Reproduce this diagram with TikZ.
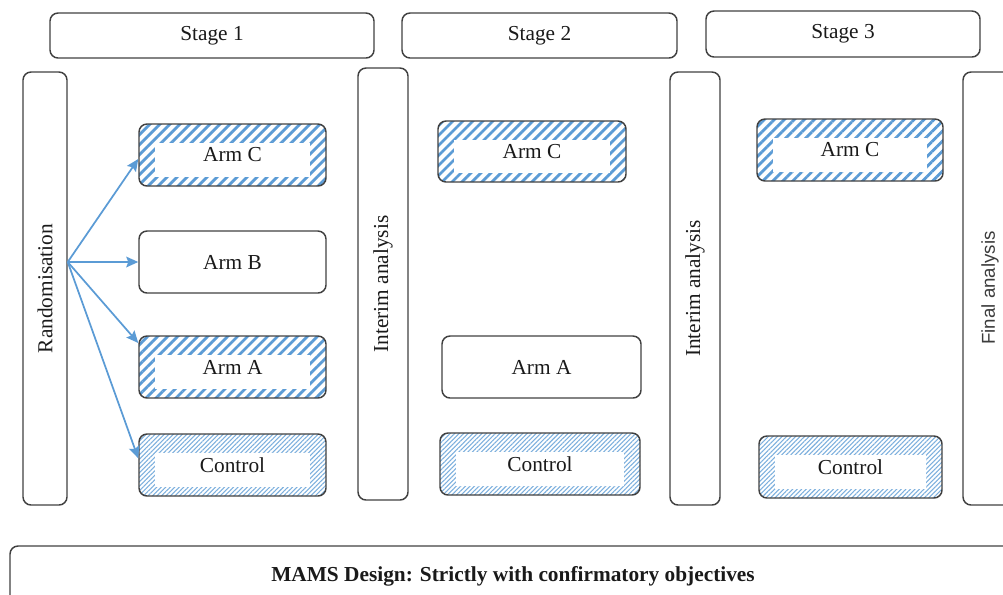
\documentclass[tikz,border=0pt]{standalone}
\usepackage{fontspec}
\setmainfont{Liberation Serif}
\newfontfamily\arialfont{Liberation Sans}
\usetikzlibrary{arrows.meta,patterns.meta}
\definecolor{hatchblue}{HTML}{5B9BD5}
\definecolor{boxline}{HTML}{404040}
\definecolor{txt}{HTML}{1A1A1A}
\tikzset{
  box/.style={draw=boxline, line width=1.1pt, rounded corners=6pt, inner sep=0pt, text=txt,
    font=\fontsize{16}{19}\selectfont},
  sz/.style 2 args={minimum width=#1*0.75pt, minimum height=#2*0.75pt},
  inset/.style={path picture={\fill[white, sharp corners] ([xshift=12pt,yshift=-14pt]path picture bounding box.north west) rectangle ([xshift=-12pt,yshift=7pt]path picture bounding box.south east);}},
  thickhatch/.style={box, preaction={pattern={Lines[angle=45,distance=5.3pt,line width=2.1pt]}, pattern color=hatchblue}, inset},
  finehatch/.style={box, preaction={pattern={Lines[angle=45,distance=2.4pt,line width=0.8pt]}, pattern color=hatchblue!80}, inset},
  arr/.style={draw=hatchblue, line width=1.3pt, -{Stealth[length=9pt,width=8pt,inset=1.5pt]}}
}
\begin{document}
\begin{tikzpicture}[x=0.75pt,y=-0.75pt]
\useasboundingbox (0,0) rectangle (1003,594);
\clip (0,0) rectangle (1003,594);
% stage headers
\node[box, sz={324}{45}] (s1) at (212,35.5) {Stage 1};
\node[box, sz={275}{45}] (s2) at (539.5,35.5) {Stage 2};
\node[box, sz={274}{46}] (s3) at (843,34) {Stage 3};
% vertical bars
\node[box, sz={44}{433}] (rand) at (45,288.5) {\rotatebox{90}{Randomisation}};
\node[box, sz={50}{432}] (int1) at (383,284) {\rotatebox{90}{Interim analysis}};
\node[box, sz={50}{433}] (int2) at (695,288.5) {\rotatebox{90}{Interim analysis}};
\node[box, sz={57}{433}] (fin) at (991.5,288.5) {};
\node[text=txt!85, font=\arialfont\fontsize{14}{17}\selectfont, rotate=90] (fintext) at (990,288) {Final analysis};
% stage 1 arms
\node[thickhatch, sz={187}{62}] (c1) at (232.5,155) {Arm C};
\node[box, sz={187}{62}] (b1) at (232.5,262) {Arm B};
\node[thickhatch, sz={187}{62}] (a1) at (232.5,367) {Arm A};
\node[finehatch, sz={187}{62}] (k1) at (232.5,465) {Control};
% stage 2 arms
\node[thickhatch, sz={188}{61}] (c2) at (532,151.5) {Arm C};
\node[box, sz={199}{62}] (a2) at (541.5,367) {Arm A};
\node[finehatch, sz={200}{62}] (k2) at (540,464) {Control};
% stage 3 arms
\node[thickhatch, sz={186}{62}] (c3) at (850,150) {Arm C};
\node[finehatch, sz={183}{62}] (k3) at (850.5,467) {Control};
% bottom banner
\node[box, sz={1020}{94}] (banner) at (520,593) {};
\node[text=txt, font=\bfseries\fontsize{16}{19}\selectfont] (bannertext) at (513,576) {MAMS Design: Strictly with confirmatory objectives};
% arrows
\coordinate (rout) at (rand.east |- b1.west);
\draw[arr] (rout) -- ([yshift=-3pt]c1.west);
\draw[arr] (rout) -- (b1.west);
\draw[arr] (rout) -- ([yshift=18pt]a1.west);
\draw[arr] (rout) -- ([yshift=5pt]k1.west);
\end{tikzpicture}
\end{document}
